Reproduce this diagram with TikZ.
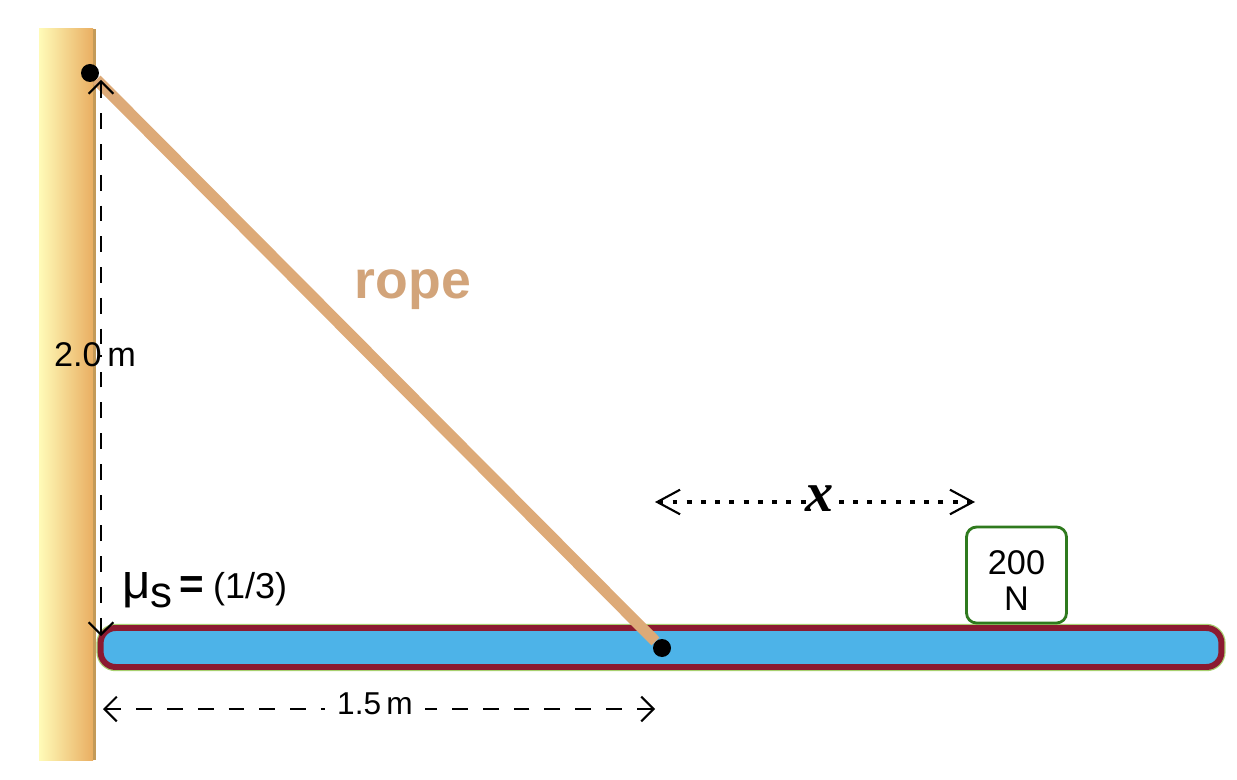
\documentclass[tikz,border=0pt]{standalone}
\usepackage{fontspec}
\setmainfont{Liberation Sans}
\newfontfamily\xfont{Liberation Serif}
\usetikzlibrary{arrows.meta}
\definecolor{RopeTan}{HTML}{DDAA78}
\definecolor{RopeText}{HTML}{D2A47A}
\definecolor{WallLight}{HTML}{FFFBB8}
\definecolor{WallDark}{HTML}{E9AE62}
\definecolor{WallEdge}{HTML}{C49A58}
\definecolor{BeamFill}{HTML}{4DB3E8}
\definecolor{BeamEdge}{HTML}{8B1A30}
\definecolor{BeamGlow}{HTML}{A8D070}
\definecolor{BlockEdge}{HTML}{2F7A1E}
\tikzset{
  pin/.style={circle,fill=black,inner sep=0pt,minimum size=0.36cm},
  halfdim/.style={line width=1.1pt,dash pattern=on 9pt off 8.5pt,{Straight Barb[length=7pt,width=14pt,line width=1.2pt]}-},
  dotdim/.style={line width=2.8pt,dash pattern=on 2.8pt off 5.3pt,{Straight Barb[length=13pt,width=14pt,line width=1.2pt]}-},
  lbl/.style={inner sep=0pt,font=\fontsize{19.5}{21}\selectfont}
}
\begin{document}
\begin{tikzpicture}[x=0.02cm,y=-0.02cm]
  \useasboundingbox (0,0) rectangle (1237,780);
  % wall
  \shade[left color=WallLight,right color=WallDark] (39,29) rectangle (93,760);
  \fill[WallEdge] (93,29) rectangle (96,760);
  % beam and block
  \node[draw=BeamEdge,fill=BeamFill,line width=3.4pt,rounded corners=0.3cm,minimum width=22.42cm,minimum height=0.78cm,inner sep=0pt,
    preaction={draw=BeamGlow,line width=4.8pt}] (beam) at (661,647.5) {};
  \node[draw=BlockEdge,fill=white,line width=1.6pt,rounded corners=0.2cm,minimum width=2cm,minimum height=1.92cm,inner sep=0pt,align=center,
    font=\fontsize{19.5}{20.5}\selectfont] (block) at (1016.5,575) {\rule{0pt}{20pt}200\\N};
  % rope
  \node[pin] (pintop) at (90,73) {};
  \node[pin] (pinbeam) at (662,648) {};
  \draw[RopeTan,line width=6.4pt] (pintop) -- (pinbeam);
  \node[RopeText,inner sep=0pt,font=\fontsize{30.5}{32}\selectfont\bfseries] (ropelabel) at (413,290) {rope};
  % dimensions
  \coordinate (heighttop) at (101,80);
  \coordinate (heightbot) at (101,636);
  \node[lbl] (heightlabel) at (95,355) {2.0\,m};
  \draw[halfdim] (heighttop) -- (heighttop |- heightlabel.center);
  \draw[halfdim] (heightbot) -- (heightbot |- heightlabel.center);
  \coordinate (widthleft) at (103,709);
  \coordinate (widthright) at (655,709);
  \node[lbl,font=\fontsize{18}{20}\selectfont] (widthlabel) at (375,704) {1.5\,m};
  \draw[halfdim,shorten >=7pt] (widthleft) -- (widthlabel.west |- widthleft);
  \draw[halfdim,shorten >=7pt] (widthright) -- (widthlabel.east |- widthright);
  \node[inner sep=0pt,font=\fontsize{32}{34}\xfont\itshape\bfseries\selectfont] (xlabel) at (820,499) {x};
  \coordinate (xleft) at (655,502);
  \coordinate (xright) at (975,502);
  \draw[dotdim] (xleft) -- (xlabel.west |- xleft);
  \draw[dotdim] (xright) -- (xlabel.east |- xright);
  \node[anchor=west,inner sep=0pt,font=\fontsize{20.5}{22}\selectfont] (mulabel) at (122,590)
    {{\fontsize{28}{30}\selectfont μ}\raisebox{-5pt}{\fontsize{25}{27}\selectfont s}\hspace{4pt}{\fontsize{24}{26}\selectfont\bfseries =}\hspace{5pt}(1/3)};
\end{tikzpicture}
\end{document}
